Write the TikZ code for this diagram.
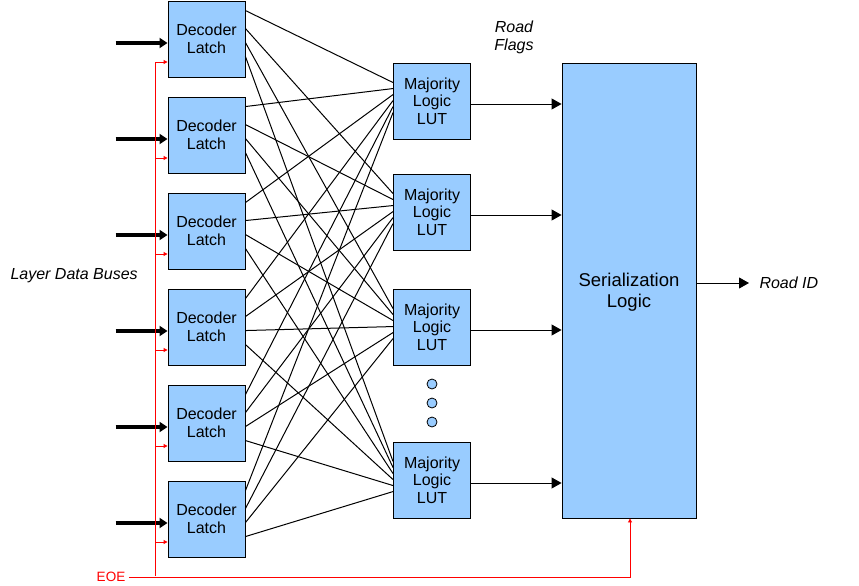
\documentclass[tikz,border=0pt]{standalone}
\usepackage{fontspec}
\setmainfont{Liberation Sans}
\usetikzlibrary{positioning, arrows.meta}
\definecolor{boxblue}{HTML}{99CCFF}
\definecolor{eoered}{HTML}{FF0000}
\begin{document}
\begin{tikzpicture}[x=1pt,y=-1pt,node distance=96pt,
    block/.style={draw, line width=0.9pt, fill=boxblue, minimum width=77pt, minimum height=76pt,
                  inner sep=0pt, align=center, font=\fontsize{16}{17.5}\selectfont},
    wire/.style={line width=1pt},
    flag/.style={line width=1pt, -{Triangle[length=10pt,width=11pt]}},
    bus/.style={line width=3.5pt, -{Triangle[length=8pt,width=10pt]}},
    eoewire/.style={eoered, line width=0.9pt},
    note/.style={font=\fontsize{16}{18}\selectfont\itshape, align=center},
    dot/.style={circle, draw, line width=0.8pt, fill=boxblue, minimum size=10pt, inner sep=0pt}]
\useasboundingbox (0,0) rectangle (859,586);

\node[block]                      (dec1) at (206.5,39) {Decoder\\Latch};
\node[block] [below of=dec1]      (dec2)               {Decoder\\Latch};
\node[block] [below of=dec2]      (dec3)               {Decoder\\Latch};
\node[block] [below of=dec3]      (dec4)               {Decoder\\Latch};
\node[block] [below of=dec4]      (dec5)               {Decoder\\Latch};
\node[block] [below of=dec5]      (dec6)               {Decoder\\Latch};

\node[block]                      (lut1) at (432,101)  {Majority\\Logic\\LUT};
\node[block]                      (lut2) at (432,212)  {Majority\\Logic\\LUT};
\node[block]                      (lut3) at (432,327)  {Majority\\Logic\\LUT};
\node[block]                      (lut4) at (432,480)  {Majority\\Logic\\LUT};
\node[dot]                        (dot1) at (432,384)  {};
\node[dot]                        (dot2) at (432,403)  {};
\node[dot]                        (dot3) at (432,422)  {};

\node[block, minimum width=134pt, minimum height=455pt, text depth=0pt,
      font=\fontsize{18.5}{21}\selectfont]
                                  (ser)  at (629,290.5) {Serialization\\Logic};

\node[note]                       (flags) at (514,37)  {Road\\Flags};
\node[note, anchor=west]          (buses) at (7,276)   {Layer Data Buses};
\node[note, anchor=west]          (roadid) at (756,283) {Road ID};
\node[eoered, font=\fontsize{13.5}{15}\selectfont] (eoe) at (111,577) {EOE};

% decoder latches to majority LUTs
\foreach \i/\e in {1/20,2/26,3/32,4/38,5/44,6/50}
  \foreach \j/\s in {1/10,2/28,3/42,4/56}
    \draw[wire] ([yshift=-\s]dec\i.north east) -- ([yshift=-\e]lut\j.north west);

% input buses and EOE
\coordinate (eoebus) at (155,576);
\foreach \i in {1,...,6} {
  \coordinate (en\i) at ([yshift=-23]dec\i.west);
  \draw[bus] ([xshift=-52pt,yshift=-4]dec\i.west) -- ([yshift=-4]dec\i.west);
  \draw[eoewire, -{Triangle[length=4pt,width=4pt]}] (eoebus |- en\i) -- (en\i);
}
\draw[eoewire] (eoebus) -- (eoebus |- en1);
\draw[eoewire, -{Triangle[length=4pt,width=4pt]}] (eoe.east) -| ([xshift=1pt]ser.south);

% flags and output
\foreach \j in {1,...,4} {
  \coordinate (out\j) at ([yshift=-3]lut\j.east);
  \draw[flag] (out\j) -- (ser.west |- out\j);
}
\draw[flag] (ser.east |- roadid.west) -- ([xshift=-7pt]roadid.west);
\end{tikzpicture}
\end{document}
